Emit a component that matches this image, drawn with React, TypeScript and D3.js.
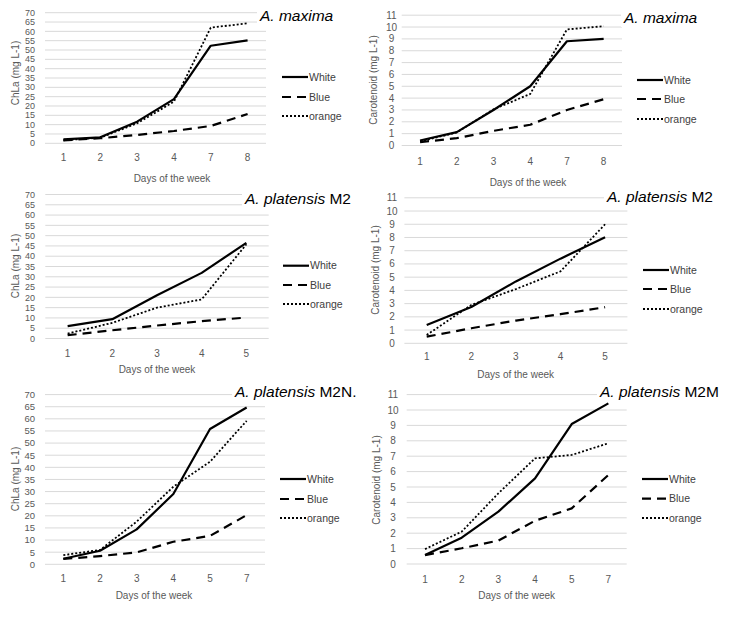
import React from "react";
import * as d3 from "d3";

// ---------- DATA ----------
const daysMaxima = ["1", "2", "3", "4", "7", "8"];
const daysM2 = ["1", "2", "3", "4", "5"];
const daysM2M = ["1", "2", "3", "4", "5", "7"];
const seriesNames = ["White", "Blue", "orange"];

const chlaMaximaWhite = [2.1, 3.2, 11.6, 23.7, 52.3, 55.2];
const chlaMaximaBlue = [1.6, 2.7, 4.5, 6.6, 9.3, 15.7];
const chlaMaximaOrange = [1.6, 3.0, 10.7, 22.3, 62.0, 64.3];

const carMaximaWhite = [0.42, 1.13, 3.0, 5.0, 8.8, 9.0];
const carMaximaBlue = [0.28, 0.62, 1.24, 1.75, 3.0, 3.9];
const carMaximaOrange = [0.34, 1.1, 3.05, 4.35, 9.8, 10.07];

const chlaM2White = [6.0, 9.4, 21.0, 31.9, 46.5];
const chlaM2Blue = [1.6, 4.0, 6.3, 8.4, 10.2];
const chlaM2Orange = [2.4, 7.6, 15.0, 19.0, 45.8];

const carM2White = [1.39, 2.75, 4.68, 6.4, 8.02];
const carM2Blue = [0.5, 1.14, 1.72, 2.2, 2.73];
const carM2Orange = [0.63, 2.9, 4.1, 5.44, 9.0];

const chlaM2MWhite = [2.3, 5.6, 14.4, 29.0, 55.8, 64.7];
const chlaM2MBlue = [2.2, 3.4, 4.9, 9.3, 11.7, 20.3];
const chlaM2MOrange = [3.8, 5.9, 17.6, 32.0, 42.3, 59.2];

const carM2MWhite = [0.58, 1.71, 3.4, 5.56, 9.09, 10.43];
const carM2MBlue = [0.58, 1.02, 1.52, 2.81, 3.61, 5.78];
const carM2MOrange = [0.97, 2.1, 4.59, 6.86, 7.08, 7.84];

const chlaTicks = d3.range(0, 71, 5);
const carTicks = d3.range(0, 12, 1);

const chlaLabel = "ChLa (mg L-1)";
const carLabel = "Carotenoid (mg L-1)";
const xTitle = "Days of the week";

// ---------- LAYOUT / STYLE ----------
const FONT = "'Liberation Sans', Arial, sans-serif";
const lineStyles = [
  { dash: "none", width: 2.2 },
  { dash: "9,6", width: 2.2 },
  { dash: "2,2", width: 1.8 },
];

type PanelDef = {
  cats: string[];
  series: number[][];
  ticks: number[];
  yMax: number;
  yLabel: string;
  titleItalic: string;
  titleNormal: string;
  tickFont: number;
  x0: number; x1: number; yBot: number; yTop: number;
  tickX: number; tickAnchor: string;
  ylabX: number; ylabY: number;
  titleX: number; titleY: number;
  legX: number; legY: number[];
  xTickY: number; xTitleX: number; xTitleY: number;
};

const panels: PanelDef[] = [
  {
    cats: daysMaxima, series: [chlaMaximaWhite, chlaMaximaBlue, chlaMaximaOrange],
    ticks: chlaTicks, yMax: 70, yLabel: chlaLabel, titleItalic: "A. maxima", titleNormal: "", tickFont: 9,
    x0: 45, x1: 266, yBot: 143.3, yTop: 12.7, tickX: 35, tickAnchor: "end",
    ylabX: 15, ylabY: 73, titleX: 260, titleY: 20.5, legX: 282, legY: [77, 97, 116],
    xTickY: 157, xTitleX: 172, xTitleY: 178,
  },
  {
    cats: daysMaxima, series: [carMaximaWhite, carMaximaBlue, carMaximaOrange],
    ticks: carTicks, yMax: 11, yLabel: carLabel, titleItalic: "A. maxima", titleNormal: "", tickFont: 10,
    x0: 401.7, x1: 622, yBot: 145.5, yTop: 15.2, tickX: 391.5, tickAnchor: "middle",
    ylabX: 373, ylabY: 80, titleX: 624, titleY: 23, legX: 637, legY: [80, 99, 119],
    xTickY: 161, xTitleX: 528, xTitleY: 182,
  },
  {
    cats: daysM2, series: [chlaM2White, chlaM2Blue, chlaM2Orange],
    ticks: chlaTicks, yMax: 70, yLabel: chlaLabel, titleItalic: "A. platensis", titleNormal: " M2", tickFont: 9,
    x0: 45.3, x1: 268.7, yBot: 338.5, yTop: 194.5, tickX: 35, tickAnchor: "end",
    ylabX: 15, ylabY: 266, titleX: 245, titleY: 203.5, legX: 283, legY: [265.7, 285, 304],
    xTickY: 353, xTitleX: 157, xTitleY: 369,
  },
  {
    cats: daysM2, series: [carM2White, carM2Blue, carM2Orange],
    ticks: carTicks, yMax: 11, yLabel: carLabel, titleItalic: "A. platensis", titleNormal: " M2", tickFont: 10,
    x0: 404.4, x1: 627.4, yBot: 343.3, yTop: 197.8, tickX: 392, tickAnchor: "middle",
    ylabX: 375, ylabY: 270, titleX: 607, titleY: 202, legX: 643, legY: [270, 289, 309],
    xTickY: 356.7, xTitleX: 515.7, xTitleY: 374,
  },
  {
    cats: daysM2M, series: [chlaM2MWhite, chlaM2MBlue, chlaM2MOrange],
    ticks: chlaTicks, yMax: 70, yLabel: chlaLabel, titleItalic: "A. platensis", titleNormal: " M2N.", tickFont: 9.5,
    x0: 45, x1: 265, yBot: 564.3, yTop: 394.6, tickX: 35, tickAnchor: "end",
    ylabX: 15, ylabY: 479, titleX: 235, titleY: 397.3, legX: 280, legY: [479, 499, 518],
    xTickY: 578.3, xTitleX: 154, xTitleY: 595,
  },
  {
    cats: daysM2M, series: [carM2MWhite, carM2MBlue, carM2MOrange],
    ticks: carTicks, yMax: 11, yLabel: carLabel, titleItalic: "A. platensis", titleNormal: " M2M", tickFont: 10,
    x0: 406.7, x1: 626.7, yBot: 564, yTop: 394.6, tickX: 393, tickAnchor: "middle",
    ylabX: 376, ylabY: 480, titleX: 600, titleY: 396.7, legX: 642, legY: [479, 498.7, 518],
    xTickY: 579, xTitleX: 516.7, xTitleY: 595,
  },
];

function Panel({ p }: { p: PanelDef }) {
  const x = d3.scalePoint<string>().domain(p.cats).range([p.x0, p.x1]).padding(0.5);
  const y = d3.scaleLinear().domain([0, p.yMax]).range([p.yBot, p.yTop]);
  const line = d3
    .line<number>()
    .x((_, i) => x(p.cats[i]) as number)
    .y((v) => y(v));
  const titleW = (p.titleItalic.length + p.titleNormal.length) * 7.7 + 6;
  return (
    <g>
      {p.ticks.map((t) => (
        <line key={"g" + t} x1={p.x0} x2={p.x1} y1={y(t)} y2={y(t)} stroke="#d9d9d9" strokeWidth={1} />
      ))}
      {p.ticks.map((t) => (
        <text key={"t" + t} x={p.tickX} y={y(t)} dy="0.35em" textAnchor={p.tickAnchor as any}
          fontSize={p.tickFont} fill="#595959" fontFamily={FONT}>{t}</text>
      ))}
      {p.cats.map((c) => (
        <text key={"c" + c} x={x(c)} y={p.xTickY} dy="0.35em" textAnchor="middle"
          fontSize={10} fill="#595959" fontFamily={FONT}>{c}</text>
      ))}
      <text x={p.xTitleX} y={p.xTitleY} dy="0.35em" textAnchor="middle" fontSize={10}
        fill="#595959" fontFamily={FONT}>{xTitle}</text>
      <text transform={`translate(${p.ylabX},${p.ylabY}) rotate(-90)`} dy="0.35em" textAnchor="middle"
        fontSize={10} fill="#595959" fontFamily={FONT}>{p.yLabel}</text>
      {p.series.map((s, i) => (
        <path key={"s" + i} d={line(s) || ""} fill="none" stroke="#000"
          strokeWidth={lineStyles[i].width}
          strokeDasharray={lineStyles[i].dash === "none" ? undefined : lineStyles[i].dash}
          strokeLinejoin="round" />
      ))}
      {seriesNames.map((n, i) => (
        <g key={"l" + n}>
          <line x1={p.legX} x2={p.legX + 26} y1={p.legY[i]} y2={p.legY[i]} stroke="#000"
            strokeWidth={lineStyles[i].width}
            strokeDasharray={lineStyles[i].dash === "none" ? undefined : lineStyles[i].dash} />
          <text x={p.legX + 27} y={p.legY[i]} dy="0.35em" fontSize={10.5} fill="#404040"
            fontFamily={FONT}>{n}</text>
        </g>
      ))}
      <rect x={p.titleX - 3} y={p.titleY - 14} width={titleW} height={18} fill="#fff" />
      <text x={p.titleX} y={p.titleY} fontSize={15.5} fill="#000" fontFamily={FONT}>
        <tspan fontStyle="italic">{p.titleItalic}</tspan>
        {p.titleNormal ? <tspan>{p.titleNormal}</tspan> : null}
      </text>
    </g>
  );
}

export default function App() {
  return (
    <svg width={743} height={620} style={{ position: "absolute", left: 0, top: 0, background: "#fff" }}>
      <rect width={743} height={620} fill="#fff" />
      {panels.map((p, i) => (
        <Panel key={i} p={p} />
      ))}
    </svg>
  );
}
